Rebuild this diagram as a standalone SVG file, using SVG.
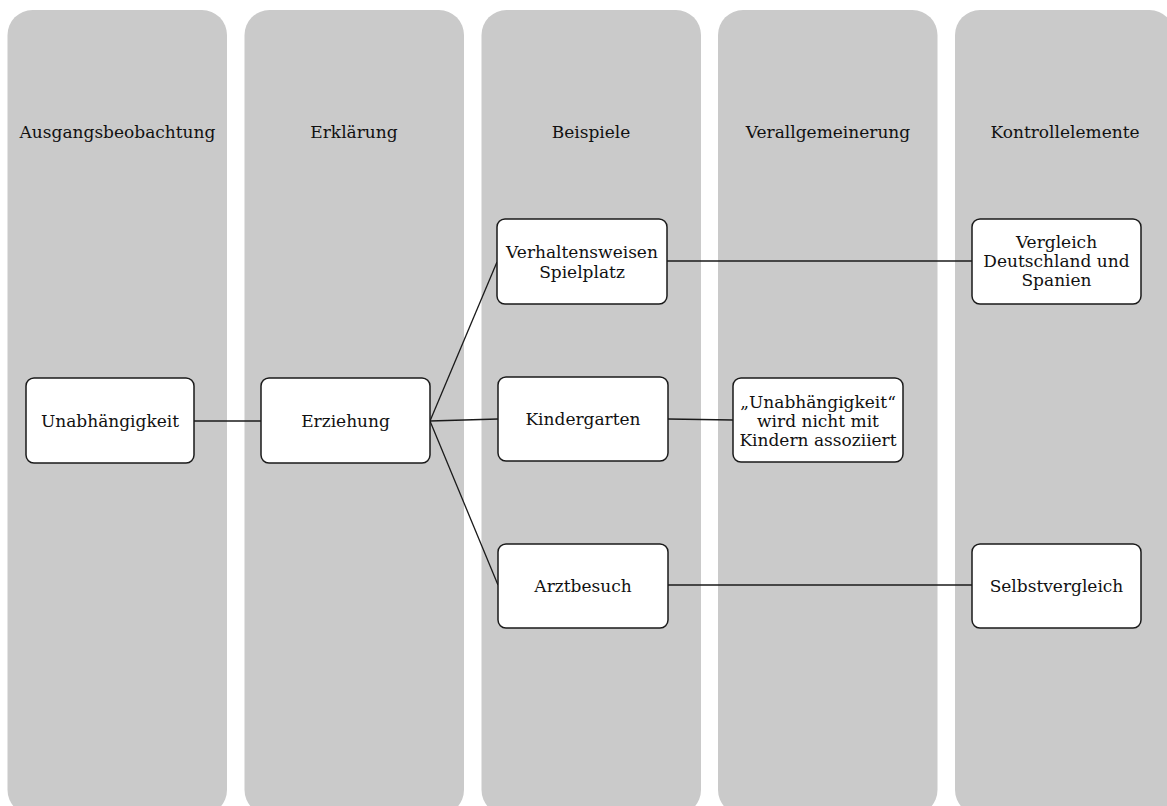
<svg xmlns="http://www.w3.org/2000/svg" width="1167" height="806" viewBox="0 0 1167 806">
  <style>
    .lane { fill: #cacaca; }
    .box { fill: #ffffff; stroke: #1a1a1a; stroke-width: 1.5; }
    .link { stroke: #1a1a1a; stroke-width: 1.3; fill: none; }
    text { font-family: "DejaVu Serif", "Liberation Serif", serif; font-size: 17px; fill: #111; text-anchor: middle; }
  </style>

  <!-- swim lanes -->
  <g id="lanes">
    <rect class="lane" x="7.5" y="10" width="219.5" height="805" rx="25"/>
    <rect class="lane" x="244.5" y="10" width="219.5" height="805" rx="25"/>
    <rect class="lane" x="481.5" y="10" width="219.5" height="805" rx="25"/>
    <rect class="lane" x="718" y="10" width="219.5" height="805" rx="25"/>
    <rect class="lane" x="955" y="10" width="219.5" height="805" rx="25"/>
    <text x="117.5" y="138">Ausgangsbeobachtung</text>
    <text x="354" y="138">Erklärung</text>
    <text x="591" y="138">Beispiele</text>
    <text x="828" y="138">Verallgemeinerung</text>
    <text x="1065" y="138">Kontrollelemente</text>
  </g>

  <!-- connectors -->
  <g id="connectors">
    <line class="link" x1="194" y1="421" x2="261" y2="421"/>
    <line class="link" x1="430" y1="421" x2="497" y2="262"/>
    <line class="link" x1="430" y1="421" x2="498" y2="419"/>
    <line class="link" x1="430" y1="421" x2="498" y2="585"/>
    <line class="link" x1="667" y1="261" x2="972" y2="261"/>
    <line class="link" x1="668" y1="419" x2="733" y2="420"/>
    <line class="link" x1="668" y1="585" x2="972" y2="585"/>
  </g>

  <g id="node-unabhaengigkeit">
    <rect class="box" x="26" y="378" width="168" height="85" rx="8"/>
    <text x="110" y="427">Unabhängigkeit</text>
  </g>
  <g id="node-erziehung">
    <rect class="box" x="261" y="378" width="169" height="85" rx="8"/>
    <text x="345.5" y="427">Erziehung</text>
  </g>
  <g id="node-spielplatz">
    <rect class="box" x="497" y="219" width="170" height="85" rx="8"/>
    <text x="582" y="258">Verhaltensweisen</text>
    <text x="582" y="278">Spielplatz</text>
  </g>
  <g id="node-kindergarten">
    <rect class="box" x="498" y="377" width="170" height="84" rx="8"/>
    <text x="583" y="425">Kindergarten</text>
  </g>
  <g id="node-arztbesuch">
    <rect class="box" x="498" y="544" width="170" height="84" rx="8"/>
    <text x="583" y="592">Arztbesuch</text>
  </g>
  <g id="node-verallgemeinerung">
    <rect class="box" x="733" y="378" width="170" height="84" rx="8"/>
    <text x="818" y="408">„Unabhängigkeit“</text>
    <text x="818" y="427">wird nicht mit</text>
    <text x="818" y="446">Kindern assoziiert</text>
  </g>
  <g id="node-vergleich">
    <rect class="box" x="972" y="219" width="169" height="85" rx="8"/>
    <text x="1056.5" y="248">Vergleich</text>
    <text x="1056.5" y="267">Deutschland und</text>
    <text x="1056.5" y="286">Spanien</text>
  </g>
  <g id="node-selbstvergleich">
    <rect class="box" x="972" y="544" width="169" height="84" rx="8"/>
    <text x="1056.5" y="592">Selbstvergleich</text>
  </g>
</svg>
